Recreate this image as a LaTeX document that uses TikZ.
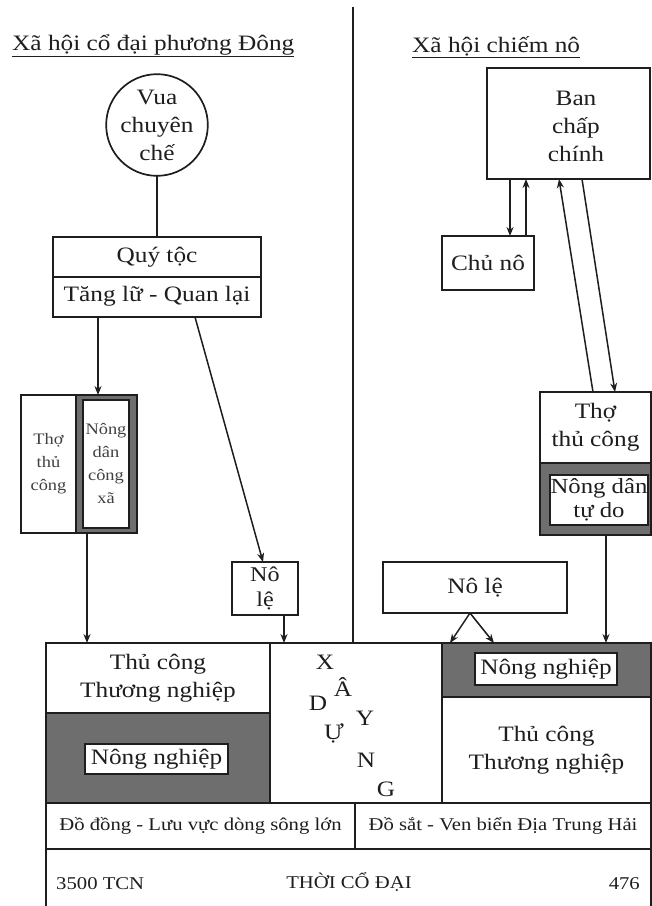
\documentclass[tikz,border=0pt]{standalone}
\usepackage{fontspec}
\setmainfont{Liberation Serif}[FakeStretch=1.15]
\usetikzlibrary{arrows.meta}
\definecolor{ink}{HTML}{1E1E1E}
\definecolor{darkfill}{HTML}{6E6E6E}
\begin{document}
\begin{tikzpicture}[x=1pt,y=-1pt,
  line/.style={draw=ink,line width=1.7pt},
  arr/.style={draw=ink,line width=1.5pt,-{Stealth[length=9pt,width=7pt]}},
  box/.style={draw=ink,line width=1.7pt,rectangle,inner sep=0pt,outer sep=0pt,anchor=center},
  dark/.style={box,fill=darkfill},
  whitebox/.style={box,fill=white,line width=1.4pt},
  txt/.style={font=\fontsize{22}{28}\selectfont,text=ink,align=center,inner sep=0pt},
  small/.style={font=\fontsize{16}{23}\selectfont,text=ink!85,align=center,inner sep=0pt},
  mid/.style={font=\fontsize{18}{22}\selectfont,text=ink,align=center,inner sep=0pt},
  letter/.style={font=\fontsize{22}{24}\selectfont,text=ink,inner sep=0pt},
]
\useasboundingbox[fill=white] (0,0) rectangle (652,906);

% titles
\node[txt,anchor=base west] (tl) at (12,50) {\underline{Xã hội cổ đại phương Đông}};
\node[txt,anchor=base west] (tr) at (412,52) {\underline{Xã hội chiếm nô}};

% bottom block
\node[box,minimum width=224pt,minimum height=70pt,txt] (c1top) at (158,678) {Thủ công\\Thương nghiệp};
\node[dark,minimum width=224pt,minimum height=90pt] (c1bot) at (158,758) {};
\node[whitebox,minimum width=143pt,minimum height=30pt,txt] (nn1) at (156.5,759) {Nông nghiệp};
\node[box,minimum width=172pt,minimum height=160pt] (c2) at (356,723) {};
\node[dark,minimum width=209pt,minimum height=54pt] (c3top) at (546.5,670) {};
\node[whitebox,minimum width=142pt,minimum height=32pt,txt] (nn2) at (546,669) {Nông nghiệp};
\node[box,minimum width=209pt,minimum height=106pt,txt] (c3bot) at (546.5,750) {Thủ công\\Thương nghiệp};
\node[box,minimum width=309pt,minimum height=46pt,mid] (r2a) at (200.5,826) {Đồ đồng - Lưu vực dòng sông lớn};
\node[box,minimum width=296pt,minimum height=46pt,mid] (r2b) at (503,826) {Đồ sắt - Ven biển Địa Trung Hải};
\node[rectangle,inner sep=0pt,outer sep=0pt,minimum width=605pt,minimum height=57pt] (r3) at (348.5,877.5) {};
\draw[line] (r3.north west) -- (r3.south west);
\draw[line] (r3.north east) -- (r3.south east);
\node[mid,anchor=west] (t3500) at (56,884) {3500 TCN};
\node[mid] (tcd) at (349,882) {THỜI CỔ ĐẠI};
\node[mid,anchor=east] (t476) at (640,884) {476};

% XAY DUNG letters
\node[letter] (lx) at (325,662) {X};
\node[letter] (la) at (343,687) {Â};
\node[letter] (ld) at (318,703) {D};
\node[letter] (ly) at (365,718) {Y};
\node[letter] (lu) at (334,733) {Ự};
\node[letter] (ln) at (366,760) {N};
\node[letter] (lg) at (386,789) {G};

% divider
\coordinate (dtop) at (353,7);
\draw[line] (dtop) -- (dtop |- c2.north);

% left side
\node[box,circle,minimum size=100pt,txt] (vua) at (157,125) {Vua\\chuyên\\chế};
\node[box,minimum width=208pt,minimum height=80pt] (qt) at (157,277) {};
\draw[line] (qt.west) -- (qt.east);
\node[txt] (qt1) at (157,257) {Quý tộc};
\node[txt] (qt2) at (157,296) {Tăng lữ - Quan lại};
\draw[line] (vua.south) -- (qt.north);

\node[box,minimum width=55pt,minimum height=138pt,small] (tho1) at (48.5,464) {Thợ\\thủ\\công};
\node[dark,minimum width=61pt,minimum height=138pt] (nd1) at (106.5,464) {};
\node[whitebox,minimum width=46pt,minimum height=128pt,small] (nd1in) at (106,464) {Nông\\dân\\công\\xã};
\node[box,minimum width=66pt,minimum height=53pt,txt,font=\fontsize{21}{25}\selectfont] (nl1) at (265,588.5) {Nô\\lệ};

\draw[arr] ([xshift=-59pt]qt.south) -- ([xshift=-8.5pt]nd1.north);
\draw[arr] ([xshift=38pt]qt.south) -- ([xshift=-2pt]nl1.north);
\draw[arr] ([xshift=-19.5pt]nd1.south) -- ([xshift=-71pt]c1top.north);
\draw[arr] ([xshift=19pt]nl1.south) -- ([xshift=126pt]c1top.north);

% right side
\node[box,minimum width=163pt,minimum height=111pt] (ban) at (568.5,123.5) {};
\node[txt] (bant) at (576,126) {Ban\\chấp\\chính};
\node[box,minimum width=92pt,minimum height=54pt,txt] (chuno) at (488,263) {Chủ nô};
\node[box,minimum width=111pt,minimum height=71pt,txt] (tho2) at (595.5,427.5) {Thợ\\thủ công};
\node[dark,minimum width=111pt,minimum height=72pt] (nd2) at (595.5,499) {};
\node[whitebox,minimum width=98pt,minimum height=50pt,txt,font=\fontsize{21.5}{24}\selectfont] (nd2in) at (599,500) {Nông dân\\tự do};
\node[box,minimum width=184pt,minimum height=51pt,txt] (nl2) at (475,587.5) {Nô lệ};

\draw[arr] ([xshift=-58.5pt]ban.south) -- ([xshift=22pt]chuno.north);
\draw[arr] ([xshift=38pt]chuno.north) -- ([xshift=-42.5pt]ban.south);
\draw[arr] ([xshift=-2.5pt]tho2.north) -- ([xshift=-9.5pt]ban.south);
\draw[arr] ([xshift=13.5pt]ban.south) -- ([xshift=19.5pt]tho2.north);
\draw[arr] ([xshift=10.5pt]nd2.south) -- ([xshift=59.5pt]c3top.north);
\draw[arr] ([xshift=-5pt]nl2.south) -- ([xshift=-96.5pt]c3top.north);
\draw[arr] ([xshift=-5pt]nl2.south) -- ([xshift=-52.5pt]c3top.north);
\end{tikzpicture}
\end{document}
